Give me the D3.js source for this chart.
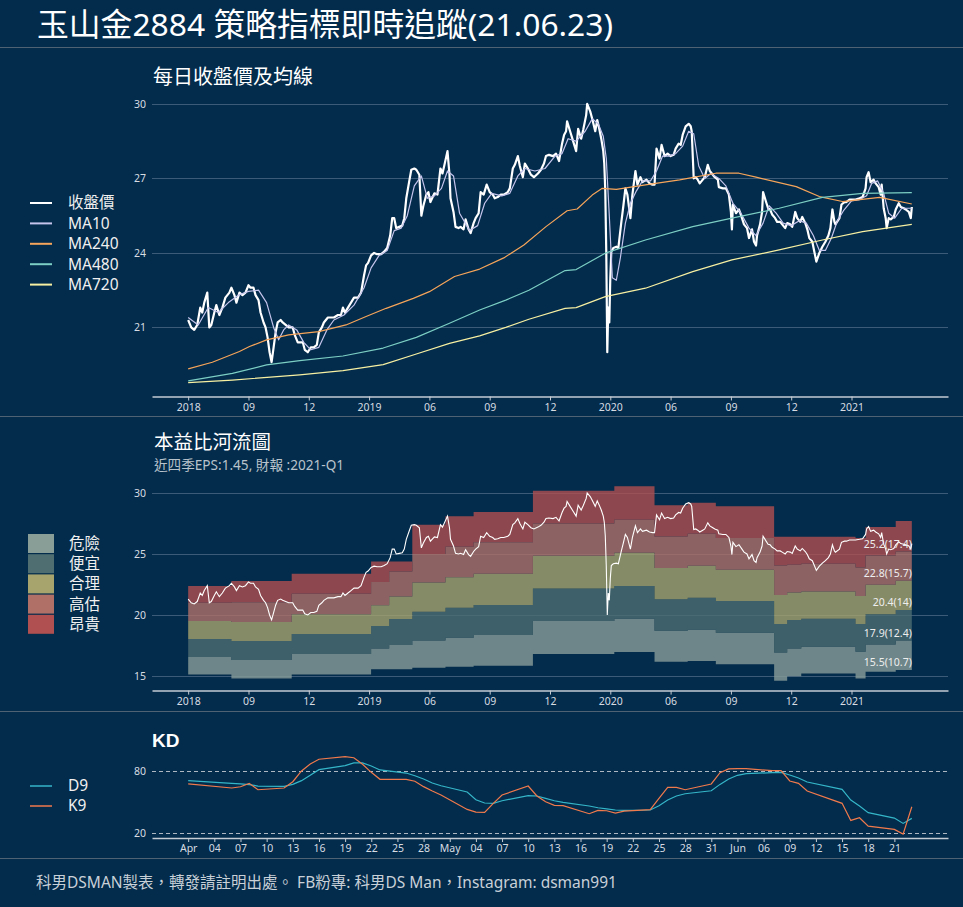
<!DOCTYPE html>
<html>
<head>
<meta charset="utf-8">
<script src="https://cdnjs.cloudflare.com/ajax/libs/d3/7.8.5/d3.min.js"></script>
<style>
body { margin: 0; background: #032b4b; }
svg { display: block; font-family: "Noto Sans", "Noto Sans CJK TC", sans-serif; }
</style>
</head>
<body>
<div id="chart"></div>
<script>
// ---- data ----
// x of the two upper charts = trading day number (0 = first day shown)
var dayTicks = [0, 60, 120, 180, 240, 300, 360, 420, 480, 540, 600, 660];
var dayTickLabels = ["2018", "09", "12", "2019", "06", "09", "12", "2020", "06", "09", "12", "2021"];

var closePrice = [[0,21.3],[3,21.0],[6,20.9],[9,21.1],[12,21.8],[14,21.6],[16,22.0],[19,22.4],[21,21.0],[23,21.1],[26,21.6],[28,21.9],[31,21.5],[34,21.8],[37,22.2],[41,22.4],[43,22.6],[46,22.3],[48,22.0],[51,22.4],[54,22.3],[57,22.4],[60,22.7],[62,22.6],[65,22.6],[67,22.3],[70,22.1],[72,21.6],[75,21.2],[77,21.0],[79,20.6],[81,20.0],[83,19.6],[85,20.2],[87,20.8],[89,21.2],[92,21.3],[94,21.2],[97,21.1],[100,21.0],[104,21.0],[106,20.7],[109,20.4],[111,20.4],[114,20.4],[116,20.1],[119,20.0],[122,20.2],[125,20.2],[128,20.3],[130,20.8],[133,21.0],[135,21.2],[139,21.4],[142,21.4],[145,21.4],[149,21.5],[152,21.5],[154,21.8],[156,21.6],[159,21.8],[162,22.0],[165,22.2],[169,22.2],[172,22.4],[175,23.1],[177,23.5],[179,23.6],[182,23.9],[185,24.0],[188,23.95],[192,23.95],[195,24.05],[198,24.2],[201,24.7],[203,25.4],[205,25.4],[207,25.0],[210,25.05],[213,25.1],[215,25.4],[217,26.2],[220,26.9],[222,27.35],[225,27.4],[227,27.35],[230,27.15],[232,25.5],[234,25.9],[237,26.35],[239,26.45],
  [241,26.05],[245,26.4],[248,26.35],[251,27.4],[253,27.2],[255,27.55],[258,28.1],[260,27.15],[261,26.2],[264,25.65],[266,25.05],[269,25.0],[271,25.05],[274,24.95],[276,25.35],[279,24.95],[281,24.8],[284,25.2],[286,25.4],[289,25.6],[291,26.45],[294,26.35],[297,26.75],[300,26.45],[303,26.35],[305,26.2],[308,26.25],[311,26.35],[314,26.35],[318,26.45],[320,26.6],[323,27.4],[325,27.55],[328,27.9],[330,27.5],[333,27.05],[335,27.6],[338,27.4],[341,27.15],[344,27.05],[348,27.2],[351,27.35],[354,27.6],[356,27.9],[359,27.95],[363,27.9],[366,28.0],[369,27.7],[372,28.4],[374,28.75],[376,28.9],[377,29.3],[380,28.9],[383,28.5],[386,28.1],[388,29.0],[391,28.6],[393,28.95],[396,29.55],[397,30.0],[400,29.7],[402,29.4],[405,28.9],[407,29.35],[409,29.0],[411,28.6],[413,28.1],[414,27.6],[415,26.5],[416,24.0],[417,20.0],[418,21.8],[419,21.2],[420,23.0],[421,24.05],[423,24.2],[426,24.25],[428,24.2],[431,25.25],[433,25.9],[435,26.6],[437,26.35],[440,25.4],[442,26.35],[445,27.3],[447,26.75],[450,27.05],[452,26.85],[456,26.95],[459,26.8],[462,26.75],[464,26.75],[466,28.2],[469,27.8],[471,28.35],[474,27.9],[477,28.0],[480,27.9],[483,27.95],
  [485,28.2],[488,28.4],[490,28.35],[492,28.75],[495,29.1],[498,29.2],[500,29.1],[501,28.9],[503,27.0],[505,27.05],[507,26.95],[509,26.8],[512,26.95],[514,27.05],[517,27.55],[519,27.3],[522,27.15],[524,27.05],[527,26.95],[528,26.65],[532,26.6],[535,26.6],[538,26.35],[540,25.65],[541,24.95],[542,25.95],[545,25.6],[548,25.75],[551,25.4],[553,25.15],[556,25.0],[558,24.6],[561,24.95],[563,24.45],[565,24.3],[566,24.7],[569,25.15],[571,25.65],[572,26.45],[575,26.05],[577,25.8],[579,25.75],[581,25.55],[584,25.4],[586,25.25],[589,25.25],[591,25.15],[594,25.0],[596,25.2],[599,25.15],[601,25.05],[604,25.65],[606,25.4],[609,25.25],[611,25.45],[614,25.2],[616,24.95],[618,24.6],[621,24.45],[623,24.05],[625,23.65],[628,24.0],[631,24.25],[634,24.45],[637,24.7],[639,25.0],[641,25.75],[643,25.25],[644,25.15],[648,25.4],[650,25.95],[653,26.05],[655,26.05],[658,26.15],[661,26.15],[664,26.15],[668,26.2],[671,26.25],[674,26.6],[675,27.05],[677,27.25],[679,26.85],[682,26.95],[684,26.8],[687,26.65],[689,26.35],[690,26.75],[692,25.8],[694,25.4],[695,25.0],[697,25.4],[699,25.35],[702,25.45],[704,25.75],[707,26.0],[709,25.85],[712,25.8],[714,25.75],[717,25.65],[719,25.4],[720,25.85]];

var ma10 = [[0,21.4],[10,21.1],[20,21.8],[30,21.6],[40,22.0],[50,22.3],[60,22.45],[70,22.5],[78,22.0],[85,21.0],[90,20.5],[95,20.9],[100,21.1],[108,20.9],[115,20.4],[122,20.1],[130,20.2],[138,20.9],[145,21.3],[155,21.5],[165,21.9],[175,22.6],[182,23.4],[190,23.9],[198,24.1],[205,24.9],[212,25.0],[218,25.5],[225,26.7],[232,27.1],[238,26.2],[245,26.3],[252,26.6],[258,27.3],[264,27.1],[270,25.6],[280,24.9],[288,25.1],[295,26.0],[302,26.4],[312,26.3],[320,26.4],[328,27.1],[335,27.4],[345,27.3],[355,27.4],[365,27.9],[372,28.0],[378,28.6],[386,28.5],[395,28.9],[402,29.4],[408,29.2],[413,28.7],[416,27.8],[419,25.5],[422,23.0],[426,22.9],[430,23.8],[435,25.2],[440,26.0],[446,26.5],[452,26.9],[460,26.9],[466,27.3],[472,27.9],[478,27.9],[485,28.0],[492,28.3],[498,28.9],[503,28.8],[508,27.5],[514,27.0],[520,27.2],[528,27.0],[535,26.7],[542,26.0],[550,25.6],[558,25.0],[565,24.7],[572,25.2],[578,25.9],[585,25.6],[592,25.2],[600,25.1],[608,25.3],[615,25.2],[622,24.7],[628,24.1],[634,24.1],[640,24.6],[646,25.3],[652,25.7],[660,26.1],[668,26.15],[675,26.3],[680,26.8],[686,26.9],[692,26.4],[697,25.6],[703,25.4],[710,25.8],[720,25.8]];

var ma240 = [[0,19.33],[24,19.6],[51,20.03],[61,20.23],[78,20.5],[100,20.7],[130,20.83],[157,21.1],[177,21.44],[197,21.77],[224,22.17],[240,22.44],[265,23.05],[290,23.35],[314,23.8],[334,24.32],[356,25.06],[377,25.7],[387,25.77],[402,26.33],[412,26.6],[426,26.56],[455,26.74],[489,26.94],[525,27.21],[548,27.21],[565,27.05],[605,26.67],[628,26.27],[651,26.07],[688,26.24],[720,25.97]];

var ma480 = [[0,18.85],[44,19.15],[78,19.49],[111,19.66],[154,19.85],[194,20.17],[227,20.6],[260,21.17],[290,21.7],[316,22.1],[339,22.5],[375,23.29],[386,23.33],[415,23.99],[455,24.52],[502,25.06],[541,25.4],[588,25.8],[631,26.24],[671,26.4],[720,26.43]];

var ma720 = [[0,18.78],[44,18.88],[111,19.09],[154,19.26],[194,19.5],[227,19.93],[260,20.36],[290,20.66],[316,21.0],[339,21.33],[375,21.77],[386,21.8],[415,22.24],[455,22.58],[502,23.25],[541,23.72],[588,24.12],[631,24.52],[671,24.86],[720,25.15]];

// PE river: each step starts at riverStart, six price levels from bottom to top
var riverStart = [0, 43, 103, 182, 200, 223, 256, 284, 343, 424, 464, 497, 525, 583, 596, 610, 664, 674, 704];
var riverEnd = 720;
var level0 = [15.12, 14.79, 15.12, 15.56, 15.56, 15.67, 15.75, 15.84, 16.8, 16.96, 16.16, 16.22, 15.97, 14.6, 14.98, 15.21, 14.79, 15.34, 15.5];
var level1 = [16.55, 16.3, 16.8, 17.26, 17.53, 17.9, 18.14, 18.36, 19.51, 19.7, 18.71, 18.79, 18.55, 16.93, 17.26, 17.4, 16.99, 17.59, 17.9];
var level2 = [18.03, 17.86, 18.44, 19.1, 19.67, 20.27, 20.6, 20.82, 22.16, 22.38, 21.29, 21.42, 21.15, 19.26, 19.59, 19.7, 19.26, 20.05, 20.4];
var level3 = [19.51, 19.42, 20.05, 20.8, 21.51, 22.66, 23.1, 23.37, 24.85, 25.1, 23.84, 24.03, 23.7, 21.64, 21.84, 21.92, 21.56, 22.47, 22.8];
var level4 = [21.01, 21.05, 21.73, 22.7, 23.56, 25.0, 25.6, 25.95, 27.5, 27.8, 26.44, 26.66, 26.3, 24.05, 24.11, 24.19, 23.89, 24.88, 25.2];
var level5 = [22.38, 22.79, 23.37, 24.38, 24.38, 27.4, 28.08, 28.44, 30.19, 30.55, 28.99, 29.2, 28.9, 26.41, 26.41, 26.41, 26.3, 27.2, 27.7];
var peMultiples = [10.7, 12.4, 14, 15.7, 17.4];
var riverNames = ["危險", "便宜", "合理", "高估", "昂貴"];
var riverColors = ["#8a9e98", "#4e6e72", "#a8a46e", "#b07068", "#b05050"];

// KD, last quarter
var kdDates = ["2021-04-01","2021-04-06","2021-04-07","2021-04-08","2021-04-09","2021-04-12","2021-04-13","2021-04-14","2021-04-15","2021-04-16","2021-04-19","2021-04-20","2021-04-21","2021-04-22","2021-04-23","2021-04-26","2021-04-27","2021-04-28","2021-04-29","2021-04-30","2021-05-03","2021-05-04","2021-05-05","2021-05-06","2021-05-07","2021-05-10","2021-05-11","2021-05-12","2021-05-13","2021-05-14","2021-05-17","2021-05-18","2021-05-19","2021-05-20","2021-05-21","2021-05-24","2021-05-25","2021-05-26","2021-05-27","2021-05-28","2021-05-31","2021-06-01","2021-06-02","2021-06-03","2021-06-04","2021-06-07","2021-06-08","2021-06-09","2021-06-10","2021-06-11","2021-06-15","2021-06-16","2021-06-17","2021-06-18","2021-06-21","2021-06-22","2021-06-23"];
var k9 = [67.4,63.5,64.7,68.0,61.8,63.5,69.6,80.0,86.8,91.4,93.9,92.9,86.5,78.7,71.9,71.9,70.0,64.8,60.5,56.7,42.7,40.1,39.8,48.6,56.7,65.4,55.7,50.2,46.6,46.3,38.5,41.7,41.4,39.1,41.1,42.4,53.4,64.1,64.1,61.8,67.4,78.4,82.0,82.3,82.3,80.3,80.3,70.3,68.0,60.5,48.6,32.0,34.6,26.5,23.3,18.7,45.3];
var d9 = [70.6,68.0,67.4,66.7,65.4,65.1,67.0,70.6,75.8,81.3,85.2,87.8,87.8,84.9,81.0,78.0,75.4,72.2,68.3,65.7,59.6,52.1,48.9,48.6,51.1,56.0,55.7,53.4,51.1,49.5,46.0,44.3,43.3,42.1,41.7,42.1,46.3,51.8,55.7,57.9,60.8,67.0,72.2,75.8,77.4,78.4,78.7,76.1,73.2,69.3,62.2,51.8,46.0,39.5,34.3,29.1,34.0];

// ---- layout ----
var width = 963, height = 907;
var bg = "#032b4b";
var plotLeft = 152, plotRight = 948;
var gridColor = "#3b5b78";
var axisColor = "#c6cdd5";
var tickColor = "#d6dce2";

var svg = d3.select("#chart")
    .append("svg")
    .attr("width", width)
    .attr("height", height);

svg.append("rect")
    .attr("width", width)
    .attr("height", height)
    .attr("fill", bg);

// 5% padding on each side, like the original
function padded(ext) {
    var p = (ext[1] - ext[0]) * 0.05;
    return [ext[0] - p, ext[1] + p];
}

// section separators
[47, 416, 711, 858].forEach(function (y) {
    svg.append("line")
        .attr("x1", 0).attr("x2", width)
        .attr("y1", y + 0.5).attr("y2", y + 0.5)
        .attr("stroke", "#4f6274")
        .attr("stroke-width", 1);
});

// main title
svg.append("text")
    .attr("x", 37)
    .attr("y", 36)
    .attr("fill", "#ffffff")
    .style("font-size", "31.8px")
    .text("玉山金2884 策略指標即時追蹤(21.06.23)");

function drawGrid(yScale, values, dashed) {
    svg.append("g")
        .selectAll("line")
        .data(values)
        .enter()
        .append("line")
        .attr("x1", plotLeft).attr("x2", plotRight)
        .attr("y1", function (d) { return Math.round(yScale(d)) + 0.5; })
        .attr("y2", function (d) { return Math.round(yScale(d)) + 0.5; })
        .attr("stroke", dashed ? "#aeb8c2" : gridColor)
        .attr("stroke-width", 1)
        .attr("stroke-dasharray", dashed ? "4,3" : null);
}

function styleAxis(g) {
    g.select(".domain").attr("stroke", axisColor).attr("stroke-width", 1.5);
    g.selectAll(".tick line").attr("stroke", axisColor);
    g.selectAll(".tick text")
        .attr("fill", tickColor)
        .style("font-size", "10.5px")
        .style("font-family", "'Noto Sans', sans-serif");
}

function drawYLabels(yScale, values) {
    var g = svg.append("g")
        .attr("transform", "translate(" + plotLeft + ",0)")
        .call(d3.axisLeft(yScale).tickValues(values).tickSize(0).tickPadding(6));
    g.select(".domain").remove();
    styleAxis(g);
}

// ================= 1. price and moving averages =================
var xDay = d3.scaleLinear()
    .domain(padded([0, riverEnd]))
    .range([plotLeft, plotRight]);

var allTop = closePrice.concat(ma10, ma240, ma480, ma720);
var yTop = d3.scaleLinear()
    .domain(padded(d3.extent(allTop, function (d) { return d[1]; })))
    .range([396.5, 90]);

svg.append("text")
    .attr("x", 153).attr("y", 84)
    .attr("fill", "#ffffff")
    .style("font-size", "20px")
    .text("每日收盤價及均線");

drawGrid(yTop, [21, 24, 27, 30]);
drawYLabels(yTop, [21, 24, 27, 30]);

var dayAxis = d3.axisBottom(xDay)
    .tickValues(dayTicks)
    .tickFormat(function (d, i) { return dayTickLabels[i]; })
    .tickSize(4)
    .tickSizeOuter(0)
    .tickPadding(3);

svg.append("g")
    .attr("transform", "translate(0," + 396.5 + ")")
    .call(dayAxis)
    .call(styleAxis);

var topLine = d3.line()
    .x(function (d) { return xDay(d[0]); })
    .y(function (d) { return yTop(d[1]); });

var priceSeries = [
    { name: "收盤價", data: closePrice, color: "#ffffff", w: 2.2 },
    { name: "MA10", data: ma10, color: "#c4c4ec", w: 1.2 },
    { name: "MA240", data: ma240, color: "#f6a55a", w: 1.2 },
    { name: "MA480", data: ma480, color: "#7ccfc4", w: 1.2 },
    { name: "MA720", data: ma720, color: "#f7f0a2", w: 1.2 }
];

priceSeries.forEach(function (s) {
    svg.append("path")
        .datum(s.data)
        .attr("fill", "none")
        .attr("stroke", s.color)
        .attr("stroke-width", s.w)
        .attr("stroke-linejoin", "round")
        .attr("d", topLine);
});

var topLegend = svg.append("g")
    .attr("transform", "translate(30,203)");

topLegend.selectAll("line")
    .data(priceSeries)
    .enter()
    .append("line")
    .attr("x1", 0).attr("x2", 22)
    .attr("y1", function (d, i) { return i * 20.4; })
    .attr("y2", function (d, i) { return i * 20.4; })
    .attr("stroke", function (d) { return d.color; })
    .attr("stroke-width", 2);

topLegend.selectAll("text")
    .data(priceSeries)
    .enter()
    .append("text")
    .attr("x", 38)
    .attr("y", function (d, i) { return i * 20.4; })
    .attr("dy", "0.35em")
    .attr("fill", "#f0f0f0")
    .style("font-size", "15.5px")
    .text(function (d) { return d.name; });

// ================= 2. PE river =================
var levels = [level0, level1, level2, level3, level4, level5];
var riverRows = riverStart.map(function (s, i) {
    return { day: s, v: levels.map(function (l) { return l[i]; }) };
});
riverRows.push({ day: riverEnd, v: riverRows[riverRows.length - 1].v });

var riverValues = [];
levels.forEach(function (l) { riverValues = riverValues.concat(l); });
var yRiver = d3.scaleLinear()
    .domain(padded(d3.extent(riverValues.concat(closePrice.map(function (d) { return d[1]; })))))
    .range([690.6, 476.5]);

svg.append("text")
    .attr("x", 154).attr("y", 449)
    .attr("fill", "#ffffff")
    .style("font-size", "19.5px")
    .text("本益比河流圖");

svg.append("text")
    .attr("x", 154).attr("y", 469.5)
    .attr("fill", "#b9c3cc")
    .style("font-size", "13.6px")
    .text("近四季EPS:1.45, 財報 :2021-Q1");

drawGrid(yRiver, [15, 20, 25, 30]);
drawYLabels(yRiver, [15, 20, 25, 30]);

riverNames.forEach(function (name, k) {
    var band = d3.area()
        .curve(d3.curveStepAfter)
        .x(function (d) { return xDay(d.day); })
        .y0(function (d) { return yRiver(d.v[k]); })
        .y1(function (d) { return yRiver(d.v[k + 1]); });
    svg.append("path")
        .datum(riverRows)
        .attr("fill", riverColors[k])
        .attr("fill-opacity", 0.8)
        .attr("d", band);
});

svg.append("path")
    .datum(closePrice)
    .attr("fill", "none")
    .attr("stroke", "#ffffff")
    .attr("stroke-width", 1.1)
    .attr("d", d3.line()
        .x(function (d) { return xDay(d[0]); })
        .y(function (d) { return yRiver(d[1]); }));

// current price of each PE multiple
var lastRow = riverRows[riverRows.length - 1];
svg.append("g")
    .selectAll("text")
    .data(peMultiples)
    .enter()
    .append("text")
    .attr("x", xDay(riverEnd))
    .attr("y", function (d, i) { return yRiver(lastRow.v[i]) - 4; })
    .attr("text-anchor", "end")
    .attr("fill", "#eeeeee")
    .style("font-size", "10.5px")
    .text(function (d, i) { return lastRow.v[i].toFixed(1) + "(" + d + ")"; });

svg.append("g")
    .attr("transform", "translate(0," + 690.6 + ")")
    .call(dayAxis)
    .call(styleAxis);

var riverLegend = svg.append("g")
    .attr("transform", "translate(28,534)");

riverLegend.selectAll("rect")
    .data(riverNames)
    .enter()
    .append("rect")
    .attr("x", 0)
    .attr("y", function (d, i) { return i * 20.2; })
    .attr("width", 26)
    .attr("height", 19)
    .attr("fill", function (d, i) { return riverColors[i]; });

riverLegend.selectAll("text")
    .data(riverNames)
    .enter()
    .append("text")
    .attr("x", 41)
    .attr("y", function (d, i) { return i * 20.2 + 9.5; })
    .attr("dy", "0.35em")
    .attr("fill", "#f0f0f0")
    .style("font-size", "15.5px")
    .text(function (d) { return d; });

// ================= 3. KD =================
var parseDate = d3.timeParse("%Y-%m-%d");
var kdRows = kdDates.map(function (d, i) {
    return { date: parseDate(d), k: k9[i], d: d9[i] };
});

var dateExt = d3.extent(kdRows, function (d) { return d.date; });
var dayMs = 86400000;
var spanPad = (dateExt[1] - dateExt[0]) * 0.05;
var xDate = d3.scaleTime()
    .domain([new Date(+dateExt[0] - spanPad), new Date(+dateExt[1] + spanPad)])
    .range([plotLeft, plotRight]);

var yKD = d3.scaleLinear()
    .domain(padded(d3.extent(k9.concat(d9))))
    .range([838, 752.8]);

svg.append("text")
    .attr("x", 152).attr("y", 747)
    .attr("fill", "#ffffff")
    .style("font-size", "19px")
    .style("font-weight", "bold")
    .style("font-family", "'Liberation Sans', Arial, sans-serif")
    .text("KD");

drawGrid(yKD, [20, 80], true);
drawYLabels(yKD, [20, 80]);

var kdTicks = d3.timeDay.range(dateExt[0], new Date(+dateExt[1] + dayMs), 3);
var fmtMonth = d3.timeFormat("%b"), fmtDay = d3.timeFormat("%d");

svg.append("g")
    .attr("transform", "translate(0,838)")
    .call(d3.axisBottom(xDate)
        .tickValues(kdTicks)
        .tickFormat(function (d, i) {
            if (i === 0 || d.getMonth() !== kdTicks[i - 1].getMonth()) return fmtMonth(d);
            return fmtDay(d);
        })
        .tickSize(4)
        .tickSizeOuter(0)
        .tickPadding(3))
    .call(styleAxis);

var kdSeries = [
    { name: "D9", key: "d", color: "#35b6c8" },
    { name: "K9", key: "k", color: "#f07a4c" }
];

kdSeries.forEach(function (s) {
    svg.append("path")
        .datum(kdRows)
        .attr("fill", "none")
        .attr("stroke", s.color)
        .attr("stroke-width", 1.2)
        .attr("d", d3.line()
            .x(function (d) { return xDate(d.date); })
            .y(function (d) { return yKD(d[s.key]); }));
});

var kdLegend = svg.append("g")
    .attr("transform", "translate(30,786)");

kdLegend.selectAll("line")
    .data(kdSeries)
    .enter()
    .append("line")
    .attr("x1", 0).attr("x2", 22)
    .attr("y1", function (d, i) { return i * 20; })
    .attr("y2", function (d, i) { return i * 20; })
    .attr("stroke", function (d) { return d.color; })
    .attr("stroke-width", 1.5);

kdLegend.selectAll("text")
    .data(kdSeries)
    .enter()
    .append("text")
    .attr("x", 38)
    .attr("y", function (d, i) { return i * 20; })
    .attr("dy", "0.35em")
    .attr("fill", "#f0f0f0")
    .style("font-size", "15.5px")
    .text(function (d) { return d.name; });

// footer
svg.append("text")
    .attr("x", 36).attr("y", 888)
    .attr("fill", "#c8d0d8")
    .style("font-size", "15.5px")
    .text("科男DSMAN製表，轉發請註明出處。 FB粉專: 科男DS Man，Instagram: dsman991");
</script>
</body>
</html>
